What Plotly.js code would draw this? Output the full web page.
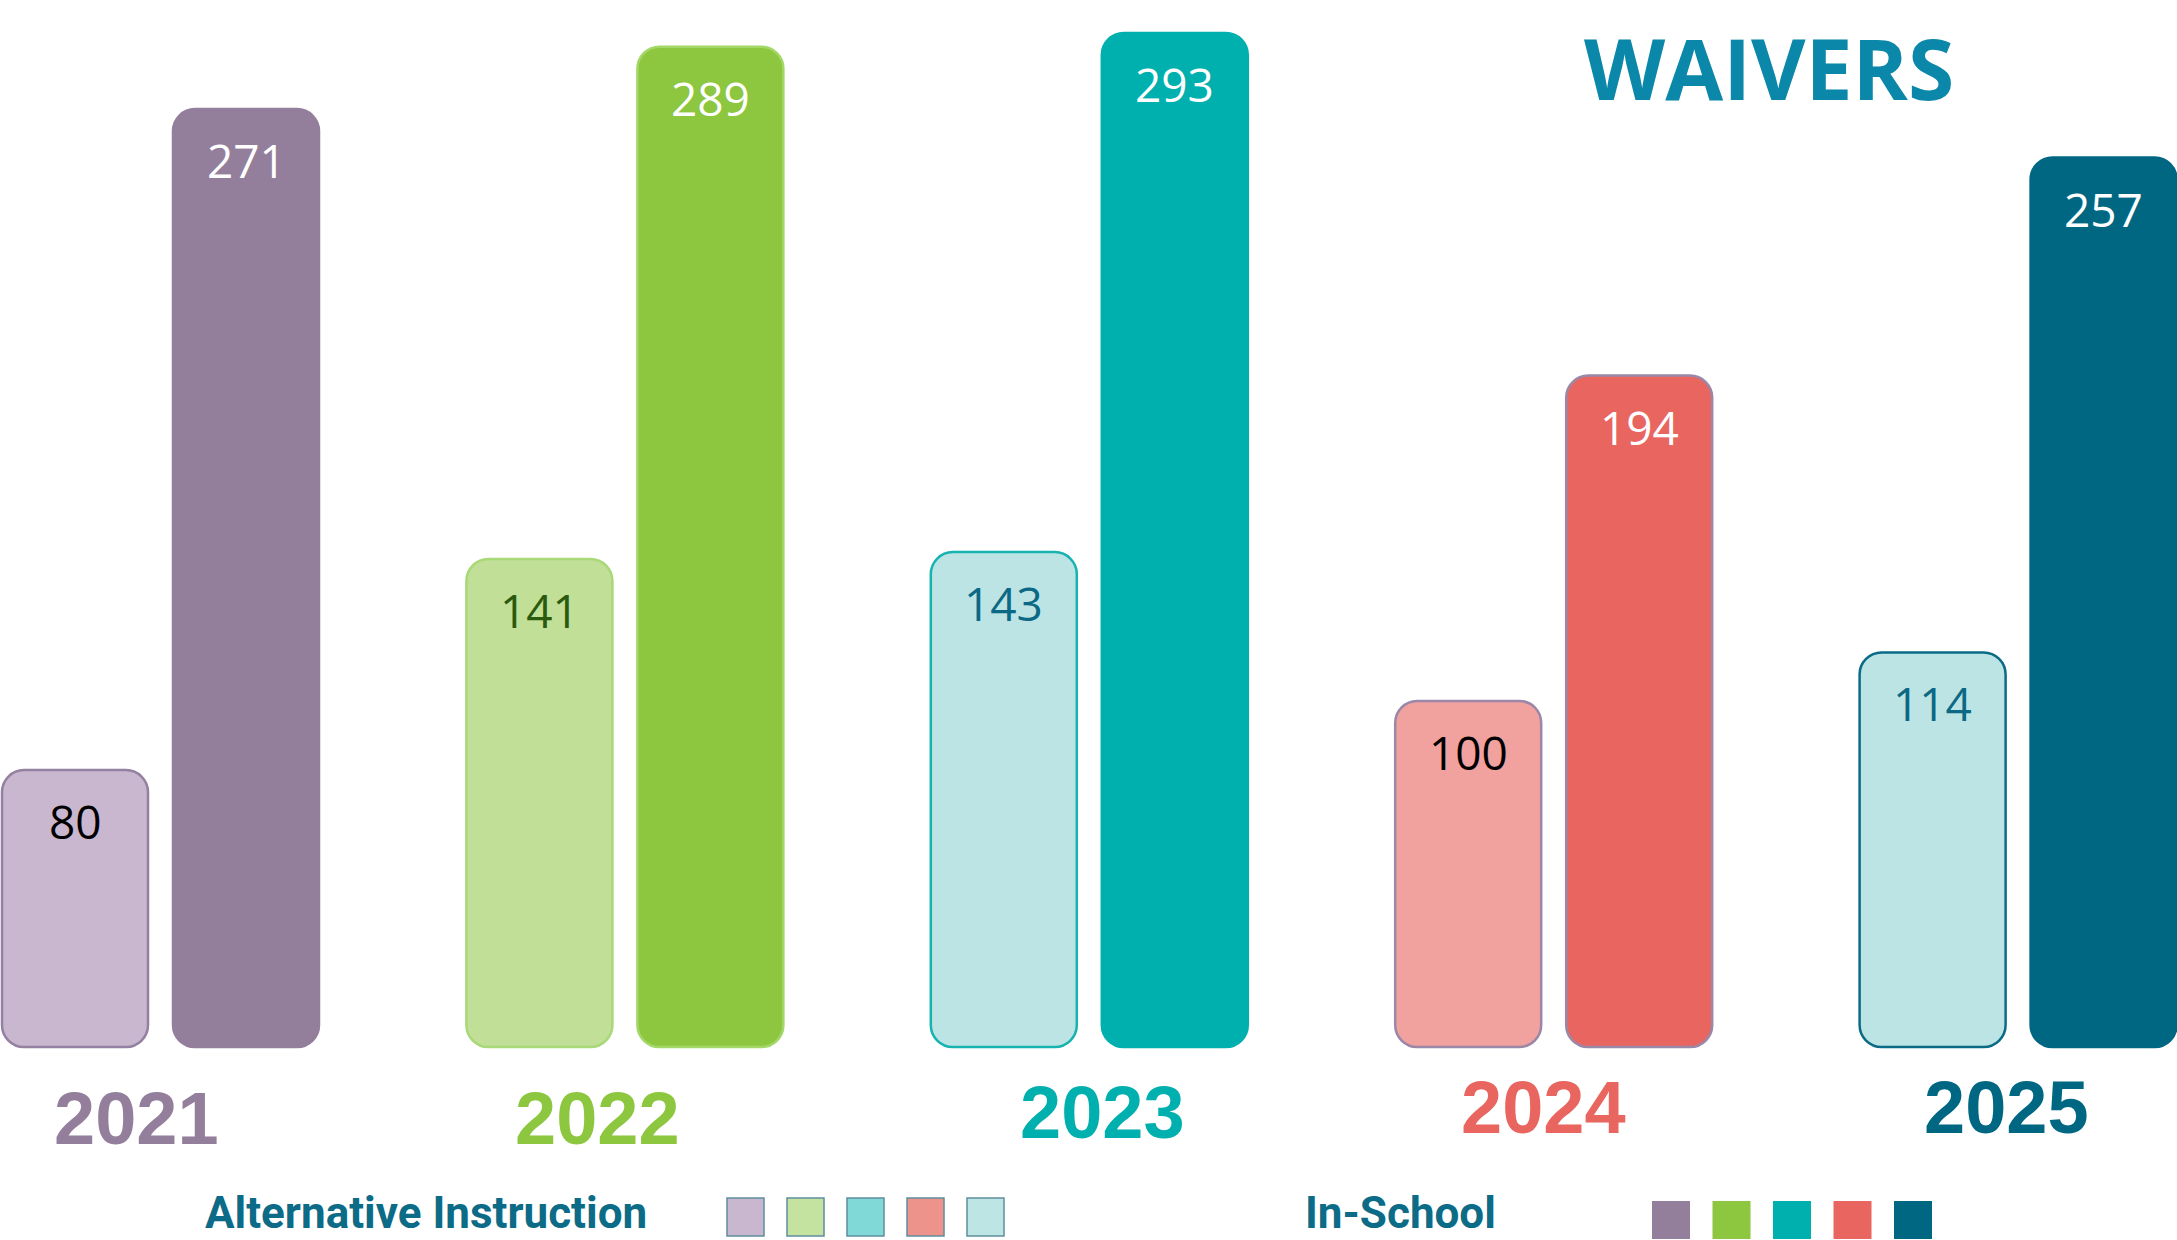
<!DOCTYPE html>
<html>
<head>
<meta charset="utf-8">
<script src="https://cdn.plot.ly/plotly-3.0.1.min.js"></script>
<style>
  html, body { margin: 0; padding: 0; background: #ffffff; }
  #chart { width: 2177px; height: 1240px; }
</style>
</head>
<body>
<div id="chart"></div>
<script>
// ---------------- DATA ----------------
const years = ['2021', '2022', '2023', '2024', '2025'];
const alternativeInstruction = [80, 141, 143, 100, 114];
const inSchool = [271, 289, 293, 194, 257];
const chartTitle = 'WAIVERS';
const legendLabels = ['Alternative Instruction', 'In-School'];

// ---------------- STYLES ----------------
const altFill = ['#c9b7cf', '#c2df98', '#bde4e4', '#f1a19e', '#bde4e4'];
const altLine = ['#9480a0', '#a8d878', '#17b3b0', '#9b87a8', '#0a6b87'];
const altText = ['#000000', '#2b5a0e', '#0c6985', '#000000', '#0c6985'];
const schoolFill = ['#937e9c', '#8dc63f', '#00b0ae', '#e8665f', '#006783'];
const schoolLine = ['#937e9c', '#a3d768', '#00b0ae', '#9b87a8', '#006783'];
const schoolText = ['#ffffff', '#ffffff', '#ffffff', '#ffffff', '#ffffff'];
const yearColors = ['#937e9c', '#8dc63f', '#00b0ae', '#e8665f', '#006783'];
const legendAltColors = ['#c9b7cf', '#c5e3a0', '#80d9d6', '#ee928c', '#bde5e4'];
const legendSchoolColors = ['#937e9c', '#8dc63f', '#00b0ae', '#e8665f', '#006783'];

// ---------------- GEOMETRY ----------------
const W = 2177, H = 1240;
const groupPitch = 464.4;      // px between year groups
const firstCenter = 160.5;     // px of first group centre
const barW = 146 / groupPitch; // bar width in category units
const gap = 25 / groupPitch;   // gap within pair
const altOffset = -gap / 2 - barW;
const schoolOffset = gap / 2;
const basePx = 1047, pxPerUnit = 3.461;
const xRange = [-firstCenter / groupPitch, (W - firstCenter) / groupPitch];
const yRange = [-(H - basePx) / pxPerUnit, basePx / pxPerUnit];
const lineW = 2.5;
const radius = 22;
const yearLabelNudgeX = [-24, -27, 13, -10, -12];   // px, layout only
const yearLabelCenterY = [1118, 1118, 1112, 1107, 1107]; // px, layout only

function barTrace(name, vals, fill, line, offset) {
  return {
    type: 'bar', name: name, x: years, y: vals, base: vals.map(() => 0),
    offset: offset, width: barW,
    hoverinfo: 'skip', showlegend: false, textposition: 'none',
    marker: { color: fill, line: { color: line, width: lineW }, cornerradius: radius }
  };
}

const traces = [
  barTrace(legendLabels[0], alternativeInstruction, altFill, altLine, altOffset),
  barTrace(legendLabels[1], inSchool, schoolFill, schoolLine, schoolOffset)
];

// ---------------- ANNOTATIONS ----------------
const annotations = [];
function valueLabels(vals, offset, colors) {
  vals.forEach((v, i) => {
    annotations.push({
      x: i + offset + barW / 2, xref: 'x', y: v, yref: 'y',
      yanchor: 'middle', xanchor: 'center', yshift: -51,
      text: String(v), showarrow: false,
      font: { family: 'Open Sans, Noto Sans, sans-serif', size: 46, color: colors[i] }
    });
  });
}
valueLabels(alternativeInstruction, altOffset, altText);
valueLabels(inSchool, schoolOffset, schoolText);

years.forEach((y, i) => {
  annotations.push({
    x: i, xref: 'x', xshift: yearLabelNudgeX[i], y: 1 - yearLabelCenterY[i] / H, yref: 'paper',
    xanchor: 'center', yanchor: 'middle', text: y, showarrow: false,
    font: { family: 'Liberation Sans, Arial, sans-serif', size: 74, weight: 700, color: yearColors[i] }
  });
});

annotations.push({
  x: 1769 / W, xref: 'paper', y: 1 - 67 / H, yref: 'paper',
  xanchor: 'center', yanchor: 'middle', text: chartTitle, showarrow: false,
  font: { family: 'Open Sans, Noto Sans, sans-serif', size: 84, weight: 700, color: '#0b88a9' }
});

const legendTextCenters = [425.5, 1400.5];
legendLabels.forEach((t, k) => {
  annotations.push({
    x: legendTextCenters[k] / W, xref: 'paper', y: 1 - 1213 / H, yref: 'paper',
    xanchor: 'center', yanchor: 'middle', text: t, showarrow: false,
    font: { family: 'Roboto, Open Sans, sans-serif', size: 44, weight: 700, color: '#0c6b87' }
  });
});

// ---------------- LEGEND SWATCHES ----------------
const shapes = [];
function swatches(colors, startPx, pitchPx, sizePx, topPx, border) {
  colors.forEach((c, i) => {
    const x0 = startPx + i * pitchPx;
    shapes.push({
      type: 'rect', xref: 'paper', yref: 'paper',
      x0: x0 / W, x1: (x0 + sizePx) / W,
      y0: 1 - (topPx + 38) / H, y1: 1 - topPx / H,
      fillcolor: c,
      line: border ? { color: '#5f8e9d', width: 1.5 } : { width: 0 }
    });
  });
}
swatches(legendAltColors, 727, 60, 37, 1198, true);
swatches(legendSchoolColors, 1652, 60.5, 38, 1201, false);

const layout = {
  width: W, height: H, autosize: false,
  margin: { l: 0, r: 0, t: 0, b: 0, pad: 0 },
  paper_bgcolor: '#ffffff', plot_bgcolor: '#ffffff',
  showlegend: false, barmode: 'overlay', hovermode: false,
  xaxis: { type: 'category', categoryorder: 'array', categoryarray: years,
           range: xRange, visible: false, fixedrange: true },
  yaxis: { range: yRange, visible: false, fixedrange: true },
  annotations: annotations,
  shapes: shapes
};

Plotly.newPlot('chart', traces, layout, { staticPlot: true, displayModeBar: false });
</script>
</body>
</html>
